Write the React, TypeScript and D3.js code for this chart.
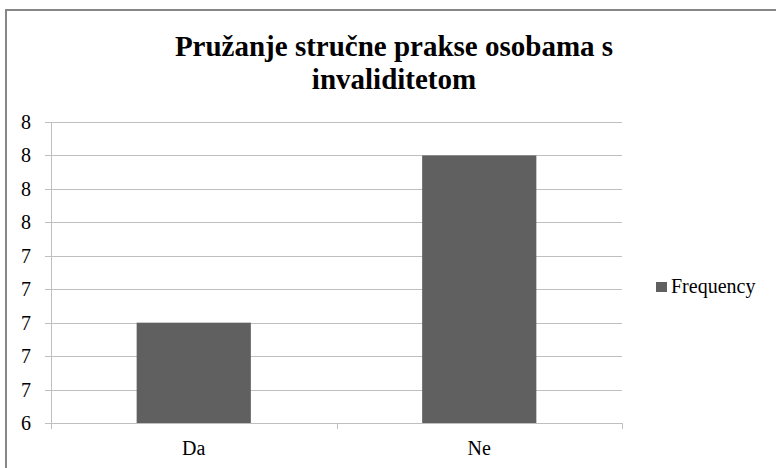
import React from 'react';
import * as d3 from 'd3';

const categories = ['Da', 'Ne'];
const frequency = [7, 8];
const yTicks = [6.4, 6.6, 6.8, 7.0, 7.2, 7.4, 7.6, 7.8, 8.0, 8.2];
const titleLines = ['Pružanje stručne prakse osobama s', 'invaliditetom'];
const seriesName = 'Frequency';

const width = 776;
const height = 468;
const font = 'Liberation Serif';
const plot = { left: 51, right: 622, top: 122, bottom: 423 };
const gridColor = '#bfbfbf';
const barColor = '#606060';

const App: React.FC = () => {
  const x = d3.scaleBand<string>()
    .domain(categories)
    .range([plot.left, plot.right]);

  const y = d3.scaleLinear()
    .domain([yTicks[0], yTicks[yTicks.length - 1]])
    .range([plot.bottom, plot.top]);

  const barWidth = x.bandwidth() * 0.4;
  const fmt = d3.format('.0f');
  const py = (v: number) => Math.round(y(v)) + 0.5;
  const bounds = [plot.left, ...categories.map(c => (x(c) as number) + x.bandwidth())];

  return (
    <svg
      width={width}
      height={height}
      fontFamily={font}
      style={{ position: 'absolute', left: 0, top: 0, display: 'block', background: 'white' }}
    >
      {/* chart frame */}
      <rect x={6} y={10} width={width + 10} height={height + 10} fill="white" stroke="#878787" strokeWidth={2} />

      {/* title */}
      {titleLines.map((t, i) => (
        <text
          key={t}
          x={394}
          y={56 + i * 33}
          textAnchor="middle"
          fontFamily={font}
          fontSize={29}
          fontWeight="bold"
          fill="#000"
        >
          {t}
        </text>
      ))}

      {/* gridlines */}
      {yTicks.slice(1).map(t => (
        <line key={t} x1={plot.left} x2={plot.right} y1={py(t)} y2={py(t)} stroke={gridColor} />
      ))}

      {/* bars */}
      {frequency.map((v, i) => (
        <rect
          key={categories[i]}
          x={(x(categories[i]) as number) + (x.bandwidth() - barWidth) / 2}
          y={y(v)}
          width={barWidth}
          height={plot.bottom - y(v)}
          fill={barColor}
        />
      ))}

      {/* y axis */}
      <line x1={plot.left + 0.5} x2={plot.left + 0.5} y1={plot.top} y2={plot.bottom + 1} stroke={gridColor} />
      {yTicks.map(t => (
        <g key={t}>
          <line x1={plot.left - 6} x2={plot.left} y1={py(t)} y2={py(t)} stroke={gridColor} />
          <text x={31} y={y(t) + 7} textAnchor="end" fontFamily={font} fontSize={20} fill="#000">
            {fmt(t)}
          </text>
        </g>
      ))}

      {/* x axis */}
      <line x1={plot.left} x2={plot.right + 1} y1={plot.bottom + 0.5} y2={plot.bottom + 0.5} stroke={gridColor} />
      {bounds.map(b => (
        <line key={b} x1={Math.round(b) + 0.5} x2={Math.round(b) + 0.5} y1={plot.bottom} y2={plot.bottom + 6} stroke={gridColor} />
      ))}
      {categories.map(c => (
        <text
          key={c}
          x={(x(c) as number) + x.bandwidth() / 2}
          y={455}
          textAnchor="middle"
          fontFamily={font}
          fontSize={20}
          fill="#000"
        >
          {c}
        </text>
      ))}

      {/* legend */}
      <rect x={656} y={282} width={11} height={10} fill={barColor} />
      <text x={671} y={293} fontFamily={font} fontSize={20} fill="#000">
        {seriesName}
      </text>
    </svg>
  );
};

export default App;
